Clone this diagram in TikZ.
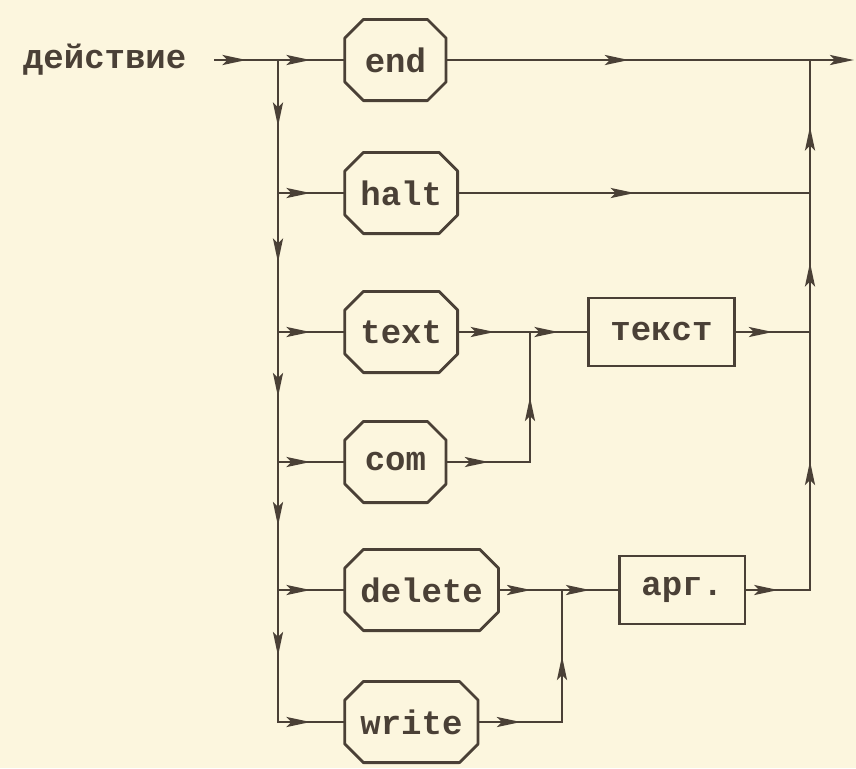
\documentclass[tikz,border=0pt]{standalone}
\usepackage{fontspec}
\setmonofont{Liberation Mono}
\usetikzlibrary{arrows.meta,decorations.markings}
\definecolor{paper}{RGB}{252,246,222}
\definecolor{ink}{RGB}{74,64,54}

\begin{document}
\begin{tikzpicture}[x=0.5pt,y=-0.5pt,
  every node/.style={font=\fontsize{17}{20}\selectfont\ttfamily\bfseries,text=ink},
  kw/.style={rectangle,minimum width=52pt,minimum height=42pt,inner xsep=8.5pt,anchor=west,
    path picture={\draw[ink,line width=1.4pt,line join=round]
      ([shift={(10pt,-0.7pt)}]path picture bounding box.north west)
      -- ([shift={(-10pt,-0.7pt)}]path picture bounding box.north east)
      -- ([shift={(-0.7pt,-10pt)}]path picture bounding box.north east)
      -- ([shift={(-0.7pt,10pt)}]path picture bounding box.south east)
      -- ([shift={(-10pt,0.7pt)}]path picture bounding box.south east)
      -- ([shift={(10pt,0.7pt)}]path picture bounding box.south west)
      -- ([shift={(0.7pt,10pt)}]path picture bounding box.south west)
      -- ([shift={(0.7pt,-10pt)}]path picture bounding box.north west) -- cycle;}},
  nt/.style={draw=ink,line width=1.4pt,rectangle,minimum height=34pt,
    inner xsep=11pt,anchor=west},
  flowtip/.tip={Stealth[length=12pt,width=5pt,inset=2.5pt]},
  flow/.style={draw=ink,line width=1.4pt,line cap=rect,
    postaction={decorate,decoration={markings,
      mark=at position 0.5 with {\arrow{flowtip}}}}}]
\fill[paper] (0,0) rectangle (856,768);
% label and keywords
\node (lbl) [anchor=west] at (16,60) {действие};
\node[kw] (end) at (343,60) {end};
\node[kw] (halt) at (343,193) {halt};
\node[kw] (text) at (343,332) {text};
\node[kw] (com) at (343,462) {com};
\node[kw] (delete) at (343,590) {delete};
\node[kw] (write) at (343,722) {write};
\node[nt] (tekst) at (587,332) {текст};
\node[nt] (arg) at (618,590) {арг.};
% junctions
\coordinate (in) at (215,60);
\coordinate (s0) at (278,60);
\coordinate (s1) at (278,193);
\coordinate (s2) at (278,332);
\coordinate (s3) at (278,462);
\coordinate (s4) at (278,590);
\coordinate (s5) at (278,722);
\coordinate (jt) at (530,332);
\coordinate (jc) at (530,462);
\coordinate (jd) at (562,590);
\coordinate (jw) at (562,722);
\coordinate (r0) at (810,60);
\coordinate (r1) at (810,193);
\coordinate (r2) at (810,332);
\coordinate (r3) at (810,590);
\coordinate (out) at (854,60);
% left rail
\draw[flow] (in) -- (s0);
\draw[flow] (s0) -- (end);
\foreach \a/\b/\n in {s0/s1/halt,s1/s2/text,s2/s3/com,s3/s4/delete,s4/s5/write} {
  \draw[flow] (\a) -- (\b);
  \draw[flow] (\b) -- (\n);
}
% middle
\draw[flow] (text) -- (jt);
\draw[flow] (com) -- (jc);
\draw[flow] (jc) -- (jt);
\draw[flow] (jt) -- (tekst);
\draw[flow] (delete) -- (jd);
\draw[flow] (write) -- (jw);
\draw[flow] (jw) -- (jd);
\draw[flow] (jd) -- (arg);
% right rail
\draw[flow] (end) -- (r0);
\draw[flow] (halt) -- (r1);
\draw[flow] (tekst) -- (r2);
\draw[flow] (arg) -- (r3);
\draw[flow] (r3) -- (r2);
\draw[flow] (r2) -- (r1);
\draw[flow] (r1) -- (r0);
\draw[ink,line width=1.4pt,-{flowtip}] (r0) -- (out);
\end{tikzpicture}
\end{document}
